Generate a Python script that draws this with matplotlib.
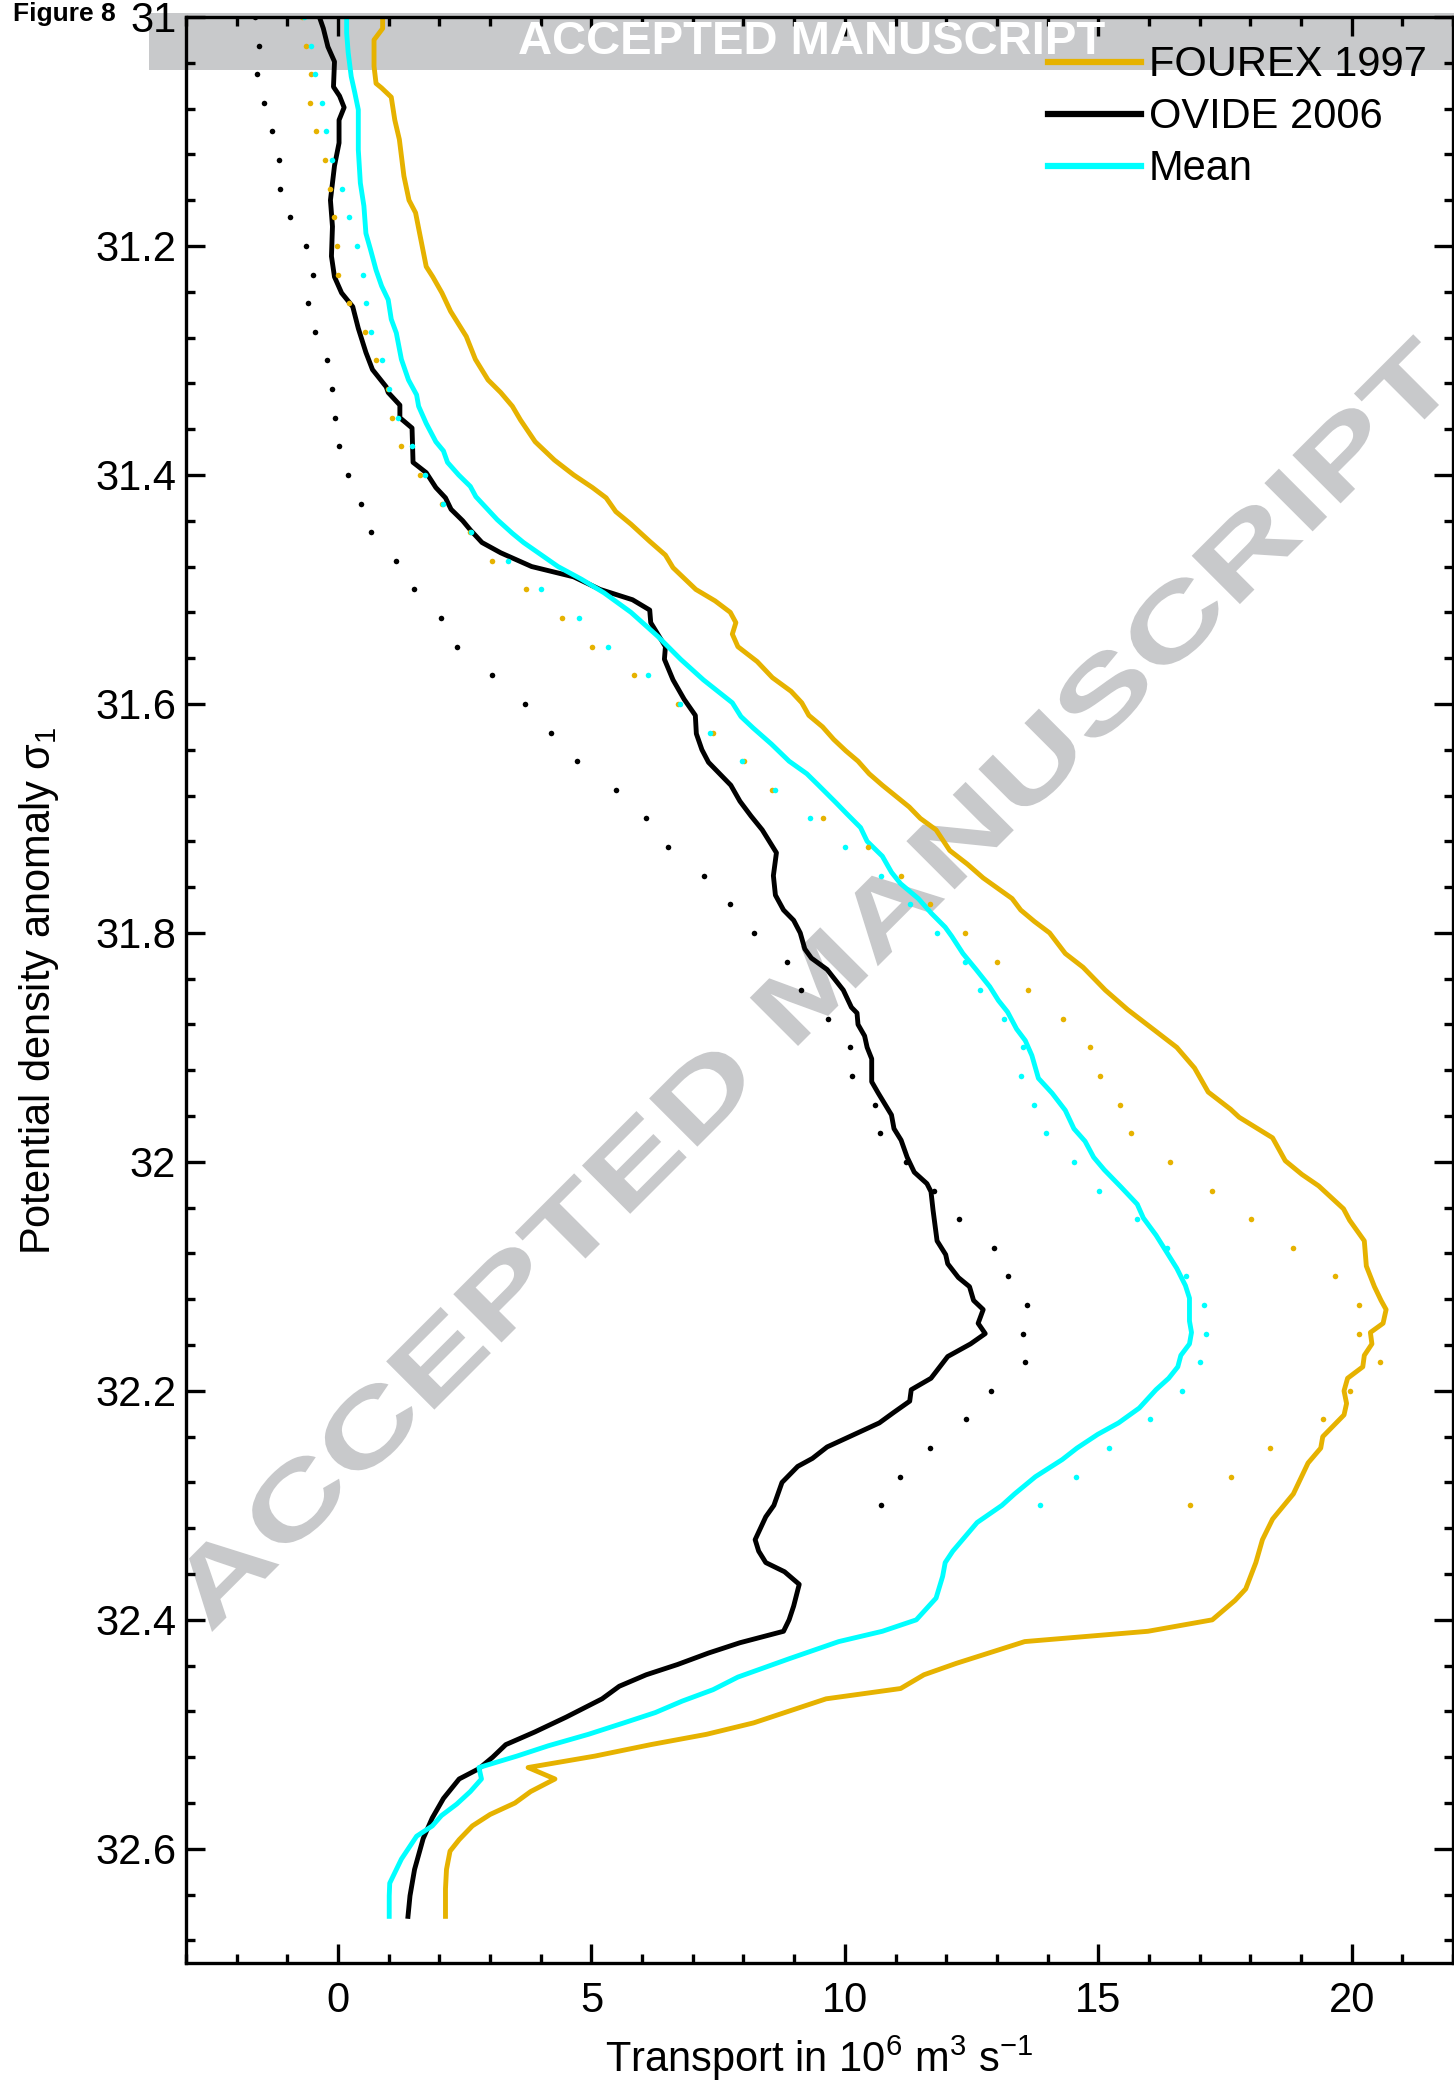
import numpy as np
import matplotlib
matplotlib.use('Agg')
import matplotlib.pyplot as plt
from matplotlib.ticker import MultipleLocator, FixedLocator
from matplotlib.patches import Rectangle, PathPatch
from matplotlib.textpath import TextPath
from matplotlib.font_manager import FontProperties
from matplotlib.transforms import Affine2D, IdentityTransform

plt.rcParams['font.family'] = ['Liberation Sans', 'DejaVu Sans']
plt.rcParams['mathtext.fontset'] = 'custom'
plt.rcParams['mathtext.rm'] = 'Liberation Sans'
plt.rcParams['mathtext.it'] = 'Liberation Sans:italic'
plt.rcParams['mathtext.bf'] = 'Liberation Sans:bold'

# ---- data (transport in Sv, sigma_1 levels) ----
fourex_sig = [31.001, 31.010, 31.020, 31.043, 31.058, 31.062, 31.070, 31.090, 31.107, 31.139,
              31.160, 31.171, 31.189, 31.218, 31.227, 31.241, 31.257, 31.279, 31.299, 31.317,
              31.328, 31.340, 31.352, 31.371, 31.387, 31.400, 31.411, 31.420, 31.432, 31.443,
              31.458, 31.470, 31.481, 31.500, 31.510, 31.520, 31.529, 31.539, 31.550, 31.563,
              31.577, 31.589, 31.599, 31.610, 31.620, 31.631, 31.641, 31.650, 31.661, 31.671,
              31.690, 31.700, 31.710, 31.728, 31.740, 31.752, 31.770, 31.780, 31.790, 31.800,
              31.818, 31.830, 31.850, 31.867, 31.885, 31.900, 31.918, 31.939, 31.954, 31.961,
              31.979, 31.999, 32.011, 32.021, 32.041, 32.051, 32.069, 32.091, 32.109, 32.121,
              32.129, 32.141, 32.149, 32.159, 32.169, 32.179, 32.189, 32.200, 32.211, 32.221,
              32.240, 32.250, 32.263, 32.290, 32.312, 32.330, 32.350, 32.373, 32.383, 32.400,
              32.410, 32.419, 32.438, 32.448, 32.460, 32.469, 32.490, 32.500, 32.509, 32.519,
              32.529, 32.539, 32.550, 32.560, 32.570, 32.580, 32.592, 32.602, 32.618, 32.635,
              32.659]
fourex_T = [0.88, 0.88, 0.71, 0.71, 0.75, 0.86, 1.05, 1.12, 1.21, 1.30,
            1.40, 1.53, 1.61, 1.74, 1.87, 2.05, 2.22, 2.53, 2.71, 2.96,
            3.21, 3.44, 3.60, 3.89, 4.27, 4.65, 5.02, 5.29, 5.48, 5.78,
            6.15, 6.46, 6.61, 7.06, 7.44, 7.74, 7.85, 7.78, 7.89, 8.27,
            8.57, 8.94, 9.15, 9.29, 9.56, 9.78, 10.02, 10.26, 10.48, 10.74,
            11.27, 11.49, 11.80, 12.07, 12.42, 12.73, 13.30, 13.47, 13.74, 14.04,
            14.35, 14.70, 15.14, 15.58, 16.11, 16.55, 16.90, 17.17, 17.61, 17.78,
            18.44, 18.69, 19.02, 19.35, 19.84, 19.96, 20.25, 20.29, 20.45, 20.58,
            20.68, 20.62, 20.37, 20.40, 20.25, 20.22, 19.92, 19.85, 19.90, 19.85,
            19.43, 19.39, 19.14, 18.85, 18.44, 18.24, 18.11, 17.91, 17.70, 17.25,
            15.98, 13.55, 12.20, 11.56, 11.10, 9.63, 8.20, 7.27, 6.17, 5.07,
            3.75, 4.28, 3.80, 3.49, 3.00, 2.65, 2.39, 2.21, 2.14, 2.12,
            2.12]

ovide_sig = [31.001, 31.010, 31.026, 31.039, 31.061, 31.069, 31.079, 31.090, 31.110, 31.130,
             31.160, 31.183, 31.209, 31.227, 31.241, 31.253, 31.272, 31.293, 31.308, 31.323,
             31.328, 31.339, 31.350, 31.359, 31.389, 31.398, 31.411, 31.420, 31.430, 31.440,
             31.448, 31.459, 31.468, 31.480, 31.489, 31.500, 31.509, 31.518, 31.529, 31.550,
             31.561, 31.579, 31.596, 31.610, 31.626, 31.640, 31.651, 31.661, 31.671, 31.685,
             31.698, 31.710, 31.730, 31.750, 31.767, 31.780, 31.789, 31.800, 31.814, 31.822,
             31.832, 31.850, 31.865, 31.870, 31.880, 31.890, 31.900, 31.910, 31.930, 31.940,
             31.959, 31.971, 31.981, 31.996, 32.009, 32.019, 32.026, 32.042, 32.069, 32.081,
             32.089, 32.101, 32.109, 32.121, 32.129, 32.141, 32.150, 32.159, 32.170, 32.189,
             32.199, 32.209, 32.219, 32.228, 32.249, 32.259, 32.266, 32.280, 32.300, 32.310,
             32.330, 32.340, 32.350, 32.358, 32.369, 32.388, 32.400, 32.410, 32.420, 32.429,
             32.439, 32.448, 32.458, 32.469, 32.485, 32.498, 32.509, 32.520, 32.530, 32.539,
             32.556, 32.573, 32.591, 32.618, 32.641, 32.659]
ovide_T = [-0.36, -0.29, -0.20, -0.07, -0.09, 0.03, 0.12, 0.02, 0.02, -0.07,
           -0.15, -0.11, -0.13, -0.07, 0.07, 0.29, 0.40, 0.55, 0.68, 0.95,
           0.99, 1.22, 1.22, 1.46, 1.48, 1.74, 1.93, 2.12, 2.23, 2.46,
           2.61, 2.84, 3.21, 3.82, 4.65, 5.17, 5.81, 6.15, 6.17, 6.46,
           6.44, 6.61, 6.83, 7.05, 7.07, 7.18, 7.31, 7.53, 7.75, 7.93,
           8.15, 8.37, 8.65, 8.59, 8.63, 8.79, 8.99, 9.12, 9.21, 9.34,
           9.65, 9.97, 10.13, 10.24, 10.26, 10.39, 10.44, 10.53, 10.53, 10.66,
           10.92, 10.97, 11.11, 11.23, 11.37, 11.62, 11.70, 11.74, 11.82, 11.99,
           12.03, 12.24, 12.46, 12.54, 12.73, 12.63, 12.77, 12.48, 12.03, 11.70,
           11.31, 11.28, 10.96, 10.68, 9.65, 9.36, 9.07, 8.76, 8.60, 8.44,
           8.23, 8.30, 8.44, 8.81, 9.10, 8.99, 8.90, 8.79, 7.93, 7.31,
           6.70, 6.08, 5.55, 5.21, 4.50, 3.88, 3.31, 3.05, 2.78, 2.39,
           2.08, 1.86, 1.68, 1.51, 1.42, 1.38]

mean_sig = [31.001, 31.014, 31.031, 31.052, 31.066, 31.081, 31.116, 31.145, 31.165, 31.189,
            31.203, 31.221, 31.235, 31.247, 31.264, 31.276, 31.299, 31.317, 31.330, 31.340,
            31.355, 31.371, 31.379, 31.389, 31.400, 31.410, 31.419, 31.439, 31.451, 31.459,
            31.480, 31.491, 31.503, 31.520, 31.541, 31.561, 31.579, 31.599, 31.611, 31.621,
            31.635, 31.650, 31.661, 31.671, 31.686, 31.696, 31.708, 31.720, 31.733, 31.747,
            31.757, 31.770, 31.783, 31.795, 31.803, 31.818, 31.832, 31.847, 31.859, 31.869,
            31.884, 31.894, 31.907, 31.927, 31.940, 31.955, 31.971, 31.982, 31.996, 32.007,
            32.022, 32.037, 32.049, 32.064, 32.076, 32.093, 32.108, 32.119, 32.139, 32.149,
            32.159, 32.169, 32.179, 32.189, 32.199, 32.215, 32.228, 32.238, 32.250, 32.260,
            32.275, 32.290, 32.300, 32.315, 32.340, 32.350, 32.362, 32.381, 32.400, 32.410,
            32.419, 32.434, 32.450, 32.461, 32.471, 32.481, 32.490, 32.500, 32.510, 32.519,
            32.529, 32.539, 32.550, 32.561, 32.571, 32.580, 32.589, 32.609, 32.630, 32.641,
            32.659]
mean_T = [0.17, 0.17, 0.20, 0.26, 0.33, 0.40, 0.40, 0.44, 0.51, 0.55,
          0.64, 0.75, 0.86, 0.99, 1.05, 1.15, 1.25, 1.39, 1.55, 1.59,
          1.74, 1.93, 2.08, 2.16, 2.38, 2.61, 2.72, 3.14, 3.44, 3.66,
          4.34, 4.80, 5.25, 5.78, 6.31, 6.76, 7.21, 7.78, 7.95, 8.19,
          8.55, 8.90, 9.25, 9.48, 9.82, 10.04, 10.31, 10.44, 10.74, 10.92,
          11.10, 11.45, 11.71, 11.98, 12.11, 12.33, 12.59, 12.86, 13.03, 13.21,
          13.39, 13.56, 13.69, 13.82, 14.09, 14.35, 14.52, 14.74, 14.91, 15.12,
          15.45, 15.77, 15.89, 16.14, 16.31, 16.55, 16.72, 16.80, 16.80, 16.84,
          16.80, 16.63, 16.57, 16.39, 16.14, 15.81, 15.40, 14.99, 14.58, 14.29,
          13.76, 13.35, 13.10, 12.61, 12.13, 11.98, 11.93, 11.80, 11.41, 10.74,
          9.88, 8.90, 7.89, 7.40, 6.79, 6.26, 5.64, 4.94, 4.15, 3.53,
          2.78, 2.83, 2.61, 2.34, 2.04, 1.86, 1.55, 1.25, 1.02, 1.01,
          1.01]

# dotted series, one value every 0.025 in sigma_1 from 31.0 to 32.3
dot_sig = np.linspace(31.0, 32.3, 53)
fourex_dots = [-0.71, -0.63, -0.54, -0.56, -0.43, -0.25, -0.15, -0.07, -0.03, 0.00,
               0.21, 0.54, 0.75, 0.98, 1.07, 1.25, 1.62, 2.05, 2.60, 3.04,
               3.70, 4.42, 5.02, 5.84, 6.70, 7.40, 8.02, 8.56, 9.57, 10.46,
               11.10, 11.69, 12.37, 13.00, 13.62, 14.30, 14.84, 15.03, 15.42, 15.65,
               16.41, 17.24, 18.02, 18.84, 19.68, 20.14, 20.14, 20.56, 19.97, 19.44,
               18.38, 17.62, 16.81]
ovide_dots = [-1.63, -1.56, -1.59, -1.47, -1.31, -1.17, -1.14, -0.94, -0.63, -0.49,
              -0.59, -0.45, -0.22, -0.12, -0.06, 0.01, 0.19, 0.45, 0.66, 1.14,
              1.49, 2.03, 2.34, 3.04, 3.68, 4.20, 4.72, 5.48, 6.08, 6.52,
              7.23, 7.74, 8.20, 8.85, 9.14, 9.67, 10.10, 10.14, 10.60, 10.69,
              11.20, 11.75, 12.25, 12.95, 13.21, 13.59, 13.52, 13.56, 12.89, 12.39,
              11.68, 11.08, 10.72]
mean_dots = [-0.67, -0.53, -0.46, -0.31, -0.23, -0.11, 0.07, 0.21, 0.37, 0.50,
             0.56, 0.66, 0.86, 1.00, 1.18, 1.45, 1.72, 2.08, 2.63, 3.36,
             4.01, 4.75, 5.32, 6.12, 6.75, 7.33, 7.97, 8.63, 9.31, 10.00,
             10.72, 11.29, 11.82, 12.37, 12.67, 13.14, 13.52, 13.47, 13.74, 13.96,
             14.53, 15.02, 15.76, 16.35, 16.74, 17.09, 17.13, 17.01, 16.66, 16.02,
             15.22, 14.56, 13.86]

x_ticks = [0, 5, 10, 15, 20]
x_tick_labels = ['0', '5', '10', '15', '20']
y_ticks = [31.0, 31.2, 31.4, 31.6, 31.8, 32.0, 32.2, 32.4, 32.6]
y_tick_labels = ['31', '31.2', '31.4', '31.6', '31.8', '32', '32.2', '32.4', '32.6']

ORANGE = '#e6b200'
CYAN = '#00ffff'
GREY = '#c8c9cb'

W, H, DPI = 1454, 2087, 100
fig = plt.figure(figsize=(W / DPI, H / DPI), dpi=DPI)
ax = fig.add_axes([186 / W, 1 - 1963.3 / H, (1453 - 186) / W, (1963.3 - 17) / H])

# watermark band at the top and diagonal stamp (pixel coordinates)
ax.add_patch(Rectangle((149, H - 70), W - 149 + 10, 57, transform=IdentityTransform(),
                       facecolor=GREY, edgecolor='none', clip_on=False, zorder=0.5))
fp = FontProperties(family='Liberation Sans', weight='bold')
tp = TextPath((0, 0), 'ACCEPTED MANUSCRIPT', size=1, prop=fp)
ext = tp.get_extents()
stamp = (Affine2D().translate(-ext.x0, 0).scale(1767 / ext.width, 71 / 0.716)
         .rotate_deg(45).translate(212, H - 1632))
ax.add_patch(PathPatch(tp, transform=stamp, facecolor=GREY, edgecolor='none',
                       clip_on=False, zorder=1))

ax.plot(fourex_T, fourex_sig, color=ORANGE, lw=3.5, label='FOUREX 1997', zorder=3)
ax.plot(ovide_T, ovide_sig, color='black', lw=3.5, label='OVIDE 2006', zorder=3)
ax.plot(mean_T, mean_sig, color=CYAN, lw=3.5, label='Mean', zorder=3)
ax.plot(fourex_dots, dot_sig, 'o', color=ORANGE, ms=4.0, mew=0, zorder=4)
ax.plot(ovide_dots, dot_sig, 'o', color='black', ms=4.0, mew=0, zorder=4)
ax.plot(mean_dots, dot_sig, 'o', color=CYAN, ms=4.0, mew=0, zorder=4)

ax.set_xlim(-3, 22)
ax.set_ylim(32.7, 31.0)
ax.xaxis.set_major_locator(FixedLocator(x_ticks))
ax.set_xticklabels(x_tick_labels)
ax.xaxis.set_minor_locator(MultipleLocator(1))
ax.yaxis.set_major_locator(FixedLocator(y_ticks))
ax.set_yticklabels(y_tick_labels)
ax.yaxis.set_minor_locator(MultipleLocator(0.04))
ax.tick_params(which='both', direction='in', top=True, right=True, width=2.4)
ax.tick_params(which='major', length=13.7)
ax.tick_params(which='minor', length=6.8)
ax.tick_params(axis='x', which='major', labelsize=30, pad=13)
ax.tick_params(axis='y', which='major', labelsize=30, pad=7)
for s in ax.spines.values():
    s.set_linewidth(2.4)
    s.set_zorder(5)

ax.set_xlabel('Transport in 10$^6$ m$^3$ s$^{-1}$', fontsize=30)
ax.xaxis.set_label_coords(0.5, -0.036)
ax.set_ylabel('Potential density anomaly σ$_1$', fontsize=30)
ax.yaxis.set_label_coords(-0.099, 0.5)

leg = ax.legend(loc='upper left', bbox_to_anchor=((1048 - 186) / 1267, 0.9855),
                frameon=False, fontsize=30, handlelength=2.23, handletextpad=0.19,
                labelspacing=0.29, borderpad=0, borderaxespad=0)
for ln in leg.get_lines():
    ln.set_linewidth(4.5)

fig.text(812 / W, 1 - 42 / H, 'ACCEPTED MANUSCRIPT', color='white', fontsize=34,
         fontweight='bold', ha='center', va='center')
fig.text(13 / W, 1 - 2 / H, 'Figure 8', fontsize=19, fontweight='bold', va='top')

fig.savefig('out.png', dpi=DPI)
